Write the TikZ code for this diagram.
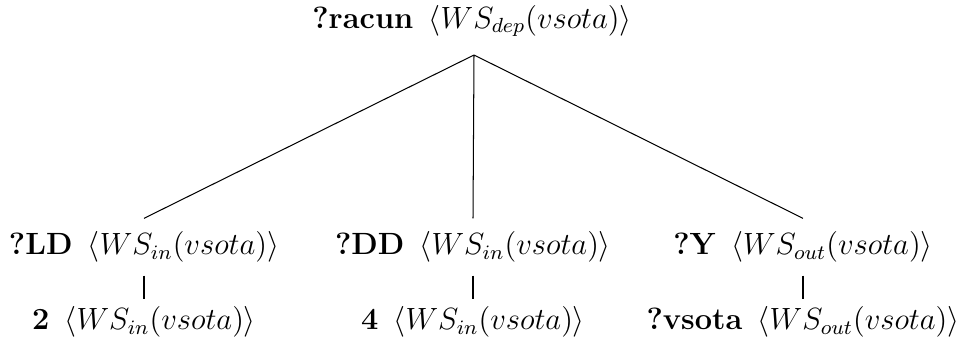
\documentclass[tikz,border=0pt]{standalone}
\usetikzlibrary{positioning}

\begin{document}
\begin{tikzpicture}[
  x=0.3906pt, y=-0.3906pt,
  tnode/.style={inner xsep=0pt, inner ysep=5pt, font=\fontsize{12}{14.5}\selectfont},
  leaf/.style={tnode, inner ysep=2.7pt},
  branch/.style={line width=0.4pt}
]
\useasboundingbox (0,0) rectangle (963,339);
% root
\node[tnode] (racun) at (472,21) {\textbf{?racun}\enspace$\langle WS_{dep}(vsota)\rangle$};
\coordinate (apex) at (474,55);
% second level
\node[tnode] (ld) at (144,247) {\textbf{?LD}\enspace$\langle WS_{in}(vsota)\rangle$};
\node[tnode] (dd) at (473,247) {\textbf{?DD}\enspace$\langle WS_{in}(vsota)\rangle$};
\node[tnode] (y)  at (803,247) {\textbf{?Y}\enspace$\langle WS_{out}(vsota)\rangle$};
% leaves
\node[leaf] (two)   at (144,322) {\textbf{2}\enspace$\langle WS_{in}(vsota)\rangle$};
\node[leaf] (four)  at (473,322) {\textbf{4}\enspace$\langle WS_{in}(vsota)\rangle$};
\node[leaf] (vsota) at (803,322) {\textbf{?vsota}\enspace$\langle WS_{out}(vsota)\rangle$};
% branches
\draw[branch] (apex) -- (ld.north);
\draw[branch] (apex) -- (dd.north);
\draw[branch] (apex) -- (y.north);
\draw[branch] (ld.south) -- (two.north);
\draw[branch] (dd.south) -- (four.north);
\draw[branch] (y.south) -- (vsota.north);
\end{tikzpicture}
\end{document}
